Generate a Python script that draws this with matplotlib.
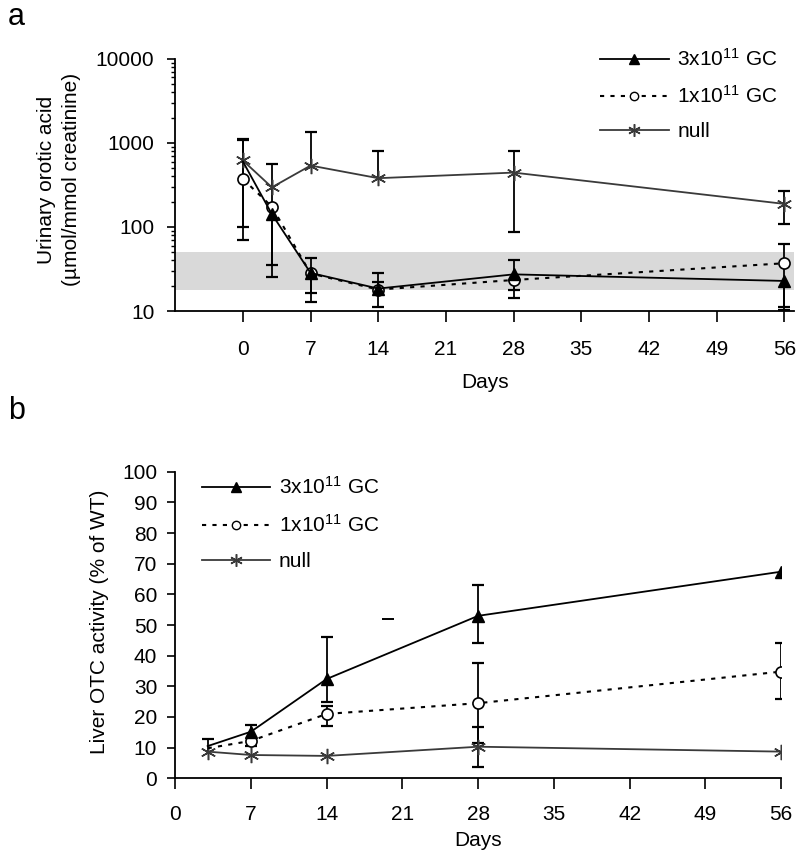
import numpy as np
import matplotlib
matplotlib.use('Agg')
import matplotlib.pyplot as plt
from matplotlib.ticker import FixedLocator, LogLocator, NullFormatter

plt.rcParams['font.family'] = ['Liberation Sans', 'DejaVu Sans']
plt.rcParams['font.size'] = 15
plt.rcParams['mathtext.fontset'] = 'custom'
plt.rcParams['mathtext.rm'] = 'Liberation Sans'
plt.rcParams['mathtext.default'] = 'regular'

nan = np.nan

# Panel a: urinary orotic acid (log scale)
days_a = [0, 3, 7, 14, 28, 56]
hi3_a = [600, 142, 28.4, 18.5, 27.3, 22.8]
hi3_a_low = [nan, 25.6, 16.6, 11.2, 17.8, 10.3]
hi3_a_high = [nan, nan, 43, 28.2, 41, nan]
lo1_a = [372, 174, 28, 18, 23.4, 37]
lo1_a_low = [70, nan, 12.7, nan, 14.4, 11.2]
lo1_a_high = [1090, nan, nan, 22.3, nan, 63]
null_a = [617, 296, 537, 380, 443, 188]
null_a_low = [100, 35, nan, nan, 87, 108]
null_a_high = [1100, 560, 1350, 800, 790, 270]
normal_range = (18, 50)

# Panel b: liver OTC activity
days_b = [3, 7, 14, 28, 56]
hi3_b = [10.5, 15.2, 32.4, 53, 67.4]
hi3_b_low = [nan, nan, 24.8, 44, nan]
hi3_b_high = [nan, 17.4, 46.2, 63, nan]
lo1_b = [9.8, 12.2, 21, 24.5, 34.8]
lo1_b_low = [nan, 10.5, 17, 11.5, 25.8]
lo1_b_high = [nan, nan, 23.5, 37.7, 44]
null_b = [8.7, 7.6, 7.3, 10.3, 8.7]
null_b_low = [nan, nan, nan, 3.8, nan]
null_b_high = [12.7, nan, nan, 16.8, nan]
# stray cap mark seen in panel b
stray_day, stray_val = 19.7, 52

labels = ['3x10$^{11}$ GC', '1x10$^{11}$ GC', 'null']
day_ticks = [0, 7, 14, 21, 28, 35, 42, 49, 56]

NULL_COL = '#3a3a3a'
asterisk = (6, 2, 0)
CAP_MS = 9


def draw_errors(ax, x, y, low, high):
    # one-sided bars are common in this figure, so draw stems and caps by hand
    for xi, yi, lo, hi in zip(x, y, low, high):
        if np.isnan(lo) and np.isnan(hi):
            continue
        a = yi if np.isnan(lo) else lo
        b = yi if np.isnan(hi) else hi
        ax.plot([xi, xi], [a, b], color='black', lw=1.3, zorder=2)
        for end in (lo, hi):
            if not np.isnan(end):
                ax.plot(xi, end, marker='_', ms=CAP_MS, mew=1.6, color='black', zorder=2)


def draw_series(ax, x, y, low, high, style, skip_first):
    draw_errors(ax, x, y, low, high)
    mk = slice(1, None) if skip_first else None
    ax.plot(x, y, markevery=mk, zorder=3, **style)


styles = [
    dict(color='black', lw=1.3, marker='^', ms=8, mfc='black', mec='black'),
    dict(color='black', lw=1.5, ls=(0, (2, 3)), marker='o', ms=8, mfc='white', mec='black', mew=1.2),
    dict(color=NULL_COL, lw=1.3, marker=asterisk, ms=11, mec=NULL_COL, mew=1.1),
]
legend_styles = [
    dict(color='black', lw=1.3, marker='^', ms=7, mfc='black'),
    dict(color='black', lw=1.5, ls=(0, (2, 3)), marker='o', ms=6, mfc='white', mec='black'),
    dict(color=NULL_COL, lw=1.3, marker=asterisk, ms=9, mec=NULL_COL, mew=1.1),
]

fig = plt.figure(figsize=(8, 8.64), dpi=100)

# ---- panel a
ax1 = fig.add_axes([0.219, 0.640, 0.7735, 0.292])
ax1.set_yscale('log')
ax1.axhspan(*normal_range, color='#d9d9d9', lw=0, zorder=0)
draw_series(ax1, days_a, null_a, null_a_low, null_a_high, styles[2], False)
draw_series(ax1, days_a, lo1_a, lo1_a_low, lo1_a_high, styles[1], False)
draw_series(ax1, days_a, hi3_a, hi3_a_low, hi3_a_high, styles[0], True)
ax1.set_xlim(-7, 57)
ax1.set_ylim(10, 10000)
ax1.xaxis.set_major_locator(FixedLocator(day_ticks))
ax1.yaxis.set_major_locator(FixedLocator([10, 100, 1000, 10000]))
ax1.yaxis.set_minor_locator(LogLocator(base=10, subs=np.arange(2, 10)))
ax1.yaxis.set_minor_formatter(NullFormatter())
ax1.set_yticklabels(['10', '100', '1000', '10000'])
ax1.tick_params(axis='x', length=8, width=1.2, pad=13)
ax1.tick_params(axis='y', which='major', length=6, width=1.2, pad=9)
ax1.tick_params(axis='y', which='minor', length=3, width=1)
ax1.set_xlabel('Days', labelpad=10)
ax1.set_ylabel('Urinary orotic acid\n(\u00b5mol/mmol creatinine)', linespacing=1.35)
ax1.yaxis.set_label_coords(-0.153, 0.52)

# ---- panel b
ax2 = fig.add_axes([0.219, 0.0992, 0.7575, 0.3548])
draw_series(ax2, days_b, null_b, null_b_low, null_b_high, styles[2], False)
draw_series(ax2, days_b, lo1_b, lo1_b_low, lo1_b_high, styles[1], True)
draw_series(ax2, days_b, hi3_b, hi3_b_low, hi3_b_high, styles[0], True)
ax2.plot(stray_day, stray_val, marker='_', ms=CAP_MS, mew=1.4, color='black')
ax2.set_xlim(0, 56)
ax2.set_ylim(0, 100)
ax2.xaxis.set_major_locator(FixedLocator(day_ticks))
ax2.yaxis.set_major_locator(FixedLocator(np.arange(0, 101, 10)))
ax2.tick_params(axis='x', length=8, width=1.2, pad=11)
ax2.tick_params(axis='y', length=6, width=1.2, pad=7)
ax2.set_xlabel('Days', labelpad=5)
ax2.set_ylabel('Liver OTC activity (% of WT)')
ax2.yaxis.set_label_coords(-0.11, 0.51)

for ax in (ax1, ax2):
    ax.spines['top'].set_visible(False)
    ax.spines['right'].set_visible(False)
    ax.spines['left'].set_linewidth(1.3)
    ax.spines['bottom'].set_linewidth(1.3)

# legends
handles = [plt.Line2D([], [], **s) for s in legend_styles]
ax1.legend(handles, labels, loc='upper left', bbox_to_anchor=(0.75, 0.944),
           bbox_transform=fig.transFigure, frameon=False, borderpad=0,
           borderaxespad=0, handlelength=3.3, handletextpad=0.4, labelspacing=0.72)
ax2.legend(handles, labels, loc='upper left', bbox_to_anchor=(0.252, 0.449),
           bbox_transform=fig.transFigure, frameon=False, borderpad=0,
           borderaxespad=0, handlelength=3.3, handletextpad=0.4, labelspacing=0.78)

fig.text(0.01, 0.971, 'a', fontsize=22, va='baseline')
fig.text(0.01, 0.515, 'b', fontsize=22, va='baseline')

fig.savefig('out.png', dpi=100)
